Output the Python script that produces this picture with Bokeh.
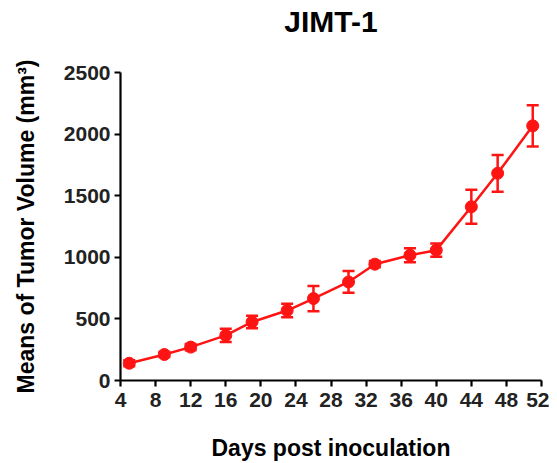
from bokeh.plotting import figure
from bokeh.models import Range1d, Whisker, TeeHead, ColumnDataSource, FixedTicker, Title
from bokeh.embed import file_html
from bokeh.resources import INLINE

days = [5, 9, 12, 16, 19, 23, 26, 30, 33, 37, 40, 44, 47, 51]
means = [140, 211, 271, 366, 475, 568, 665, 800, 944, 1017, 1058, 1410, 1682, 2067]
sem = [25, 20, 25, 54, 50, 54, 102, 88, 25, 57, 54, 138, 149, 167]
x_ticks = [4, 8, 12, 16, 20, 24, 28, 32, 36, 40, 44, 48, 52]
y_ticks = [0, 500, 1000, 1500, 2000, 2500]
title_text = "JIMT-1"

RED = "#ff1414"
FONT = "Liberation Sans"

src = ColumnDataSource(dict(
    x=days, y=means,
    lo=[m - s for m, s in zip(means, sem)],
    hi=[m + s for m, s in zip(means, sem)],
))

p = figure(width=549, height=463, output_backend="svg", toolbar_location=None,
           x_range=Range1d(4, 52), y_range=Range1d(0, 2500),
           min_border_left=120, min_border_right=8, min_border_top=72, min_border_bottom=83)

# spacer (closest to the frame) then the real title above it
p.add_layout(Title(text=" ", text_font_size="30px", standoff=0), "above")
p.add_layout(Title(text=title_text, text_font=FONT, text_font_size="30px",
                   text_font_style="bold", align="center", text_color="black",
                   standoff=0, offset=-4), "above")

p.outline_line_color = None
p.xgrid.visible = False
p.ygrid.visible = False

p.line("x", "y", source=src, line_color=RED, line_width=2.5)
w = Whisker(base="x", lower="lo", upper="hi", source=src, line_color=RED, line_width=2.5,
            upper_head=TeeHead(size=12, line_color=RED, line_width=2.5),
            lower_head=TeeHead(size=12, line_color=RED, line_width=2.5))
p.add_layout(w)
p.scatter("x", "y", source=src, size=12, fill_color=RED, line_color=RED)

for ax in (p.xaxis[0], p.yaxis[0]):
    ax.axis_line_width = 2.2
    ax.axis_line_color = "black"
    ax.major_tick_line_width = 2.2
    ax.major_tick_line_color = "black"
    ax.major_tick_out = 6
    ax.major_tick_in = 0
    ax.minor_tick_line_color = None
    ax.major_label_text_font = FONT
    ax.major_label_text_font_size = "21px"
    ax.major_label_text_font_style = "bold"
    ax.major_label_text_color = "#222222"
    ax.axis_label_text_font = FONT
    ax.axis_label_text_font_size = "23px"
    ax.axis_label_text_font_style = "bold"
    ax.axis_label_text_color = "black"

p.xaxis.ticker = FixedTicker(ticks=x_ticks)
p.yaxis.ticker = FixedTicker(ticks=y_ticks)
p.xaxis.axis_label = "Days post inoculation"
p.yaxis.axis_label = "Means of Tumor Volume (mm³)"
p.xaxis.major_label_standoff = 6
p.yaxis.major_label_standoff = 4
p.xaxis.axis_label_standoff = 25
p.yaxis.axis_label_standoff = 22

open("out.html", "w").write(file_html(p, INLINE))
